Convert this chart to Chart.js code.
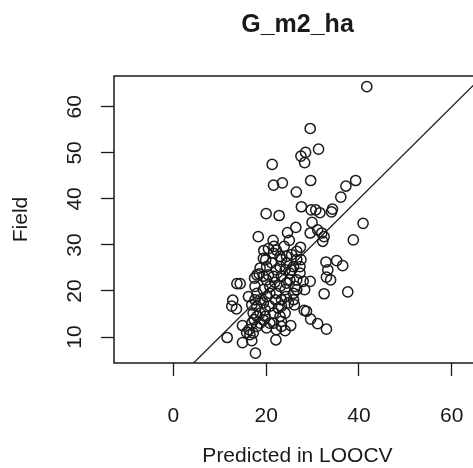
<!DOCTYPE html>
<html>
<head>
<meta charset="utf-8">
<script src="https://cdn.jsdelivr.net/npm/chart.js@4.4.1/dist/chart.umd.min.js"></script>
<style>
  html, body { margin: 0; padding: 0; background: #fff; overflow: hidden; }
  canvas { display: block; }
</style>
</head>
<body>
<canvas id="scatterChart" width="473" height="468"></canvas>
<script>
const chartTitle = "G_m2_ha";
const xTitle = "Predicted in LOOCV";
const yTitle = "Field";

const xTicks = [0, 20, 40, 60];
const yTicks = [10, 20, 30, 40, 50, 60];

// 1:1 reference line (abline 0,1)
const oneToOne = [-20, 80];

const predicted = [
  41.7, 29.5, 31.3, 27.5, 28.5, 28.3, 21.3, 29.6, 21.6, 23.5,
  26.5, 39.3, 37.2, 36.1, 27.6, 29.7, 30.7, 31.6, 34.1, 34.3,
  20.0, 22.8, 40.9, 29.9, 26.4, 29.5, 31.1, 32.0, 32.5, 32.2,
  38.8, 18.3, 24.6, 25.0, 21.5, 27.4, 19.5, 21.7, 23.9, 19.4,
  32.9, 35.2, 36.5, 33.3, 33.0, 33.9, 32.5, 37.6, 27.5, 27.3,
  29.5, 28.3, 26.1, 28.2, 28.7, 29.6, 31.1, 33.0, 25.3, 24.1,
  22.1, 17.7, 16.9, 14.9, 11.6, 14.9, 12.8, 12.6, 13.6, 13.7,
  14.4, 16.2, 17.5, 18.5, 18.0, 18.7, 17.2, 16.5, 20.1, 21.6,
  23.3, 24.1, 23.3, 21.6, 19.4, 18.0, 18.0, 20.1, 22.0, 24.3,
  25.9, 26.2, 24.4, 23.0, 20.8, 19.4, 20.1, 21.6, 23.3, 25.1,
  26.6, 27.3, 25.9, 24.4, 23.0, 21.2, 20.1, 18.7, 18.0, 24.4,
  23.0, 21.6, 25.5, 26.6, 20.8, 22.2, 17.2, 18.7, 19.4, 20.8,
  22.2, 23.3, 18.0, 16.9, 16.3, 17.4, 16.9, 18.7, 19.8, 23.0,
  24.8, 25.9, 26.6, 17.6, 19.4, 22.2, 24.1, 25.1, 21.9, 20.5,
  23.3, 22.2, 20.5, 26.6, 25.5, 19.9, 20.8, 22.6, 24.1, 17.6,
  15.8, 28.0, 19.8, 23.3
];

const field = [
  64.4, 55.3, 50.8, 49.3, 50.1, 47.9, 47.5, 44.0, 43.0, 43.5,
  41.5, 44.0, 42.8, 40.4, 38.3, 37.6, 37.6, 37.0, 37.2, 37.8,
  36.8, 36.4, 34.7, 34.9, 33.8, 32.6, 33.3, 32.6, 31.8, 30.8,
  31.1, 31.8, 32.7, 31.0, 31.0, 29.5, 28.8, 29.7, 29.7, 27.1,
  26.3, 26.6, 25.5, 24.6, 23.0, 22.4, 19.4, 19.8, 26.8, 23.9,
  22.1, 20.3, 17.0, 15.8, 15.6, 13.9, 12.9, 11.7, 12.5, 11.4,
  9.4, 6.5, 9.2, 8.8, 9.9, 12.5, 18.0, 16.7, 16.1, 21.6,
  21.6, 18.8, 22.8, 23.7, 14.5, 13.0, 10.9, 10.5, 12.0, 13.0,
  13.4, 15.2, 16.7, 15.2, 17.4, 16.7, 19.5, 18.8, 18.1, 18.8,
  19.5, 21.0, 21.7, 21.0, 21.0, 20.3, 22.4, 23.2, 23.2, 22.4,
  22.4, 25.3, 25.3, 26.1, 25.3, 26.1, 25.3, 25.0, 23.5, 27.5,
  27.5, 28.2, 27.9, 26.8, 19.5, 19.5, 15.2, 15.2, 13.7, 13.0,
  11.6, 12.3, 12.3, 13.0, 11.6, 13.8, 17.0, 18.1, 15.9, 14.5,
  17.4, 18.1, 20.3, 21.0, 23.2, 24.6, 24.6, 23.9, 21.9, 23.5,
  26.8, 28.9, 29.2, 28.6, 24.6, 26.8, 16.7, 16.3, 20.3, 18.1,
  11.0, 22.1, 14.5, 18.1
];

const fontFamily = "'Liberation Sans', Arial, Helvetica, sans-serif";
const ink = "#1a1a1a";

function toPoints(xs, ys) {
  return xs.map((x, i) => ({ x: x, y: ys[i] }));
}

function fixedTicks(values) {
  return function (scale) {
    scale.ticks = values.map((v) => ({ value: v }));
  };
}

// the original plot is cut at the right edge of the image, so the box
// gets its top, left and bottom sides only; titles sit over the full plot region
const fullRight = 481;

const rFramePlugin = {
  id: "rFrame",
  afterDraw(chart) {
    const ctx = chart.ctx;
    const area = chart.chartArea;
    const yScale = chart.scales.y;
    const midX = (area.left + fullRight) / 2;

    ctx.save();
    ctx.strokeStyle = ink;
    ctx.lineWidth = 1.5;
    ctx.beginPath();
    ctx.moveTo(chart.width + 2, area.top);
    ctx.lineTo(area.left, area.top);
    ctx.lineTo(area.left, area.bottom);
    ctx.lineTo(chart.width + 2, area.bottom);
    ctx.stroke();

    ctx.fillStyle = ink;
    ctx.font = "21px " + fontFamily;
    ctx.textAlign = "center";
    ctx.textBaseline = "middle";
    yTicks.forEach((v) => {
      ctx.save();
      ctx.translate(75, yScale.getPixelForValue(v));
      ctx.rotate(-Math.PI / 2);
      ctx.fillText(String(v), 0, 0);
      ctx.restore();
    });

    ctx.fillText(xTitle, midX, 456);

    ctx.font = "bold 25px " + fontFamily;
    ctx.fillText(chartTitle, midX, 25);
    ctx.restore();
  },
};

function createChart() {
  const canvas = document.getElementById("scatterChart").getContext("2d");
  new Chart(canvas, {
    type: "scatter",
    data: {
      datasets: [
        {
          data: toPoints(predicted, field),
          pointStyle: "circle",
          pointRadius: 5.1,
          pointHoverRadius: 5.1,
          pointBorderWidth: 1.5,
          pointBorderColor: ink,
          pointBackgroundColor: "rgba(0,0,0,0)",
        },
        {
          type: "line",
          data: toPoints(oneToOne, oneToOne),
          borderColor: ink,
          borderWidth: 1.3,
          pointRadius: 0,
          fill: false,
          clip: 0,
        },
      ],
    },
    options: {
      responsive: false,
      animation: false,
      devicePixelRatio: 1,
      layout: {
        autoPadding: false,
        padding: { top: 76, right: 0, left: 0, bottom: 0 },
      },
      plugins: {
        legend: { display: false },
        tooltip: { enabled: false },
        title: { display: false },
      },
      scales: {
        x: {
          type: "linear",
          min: -12.8,
          max: 64.6,
          afterBuildTicks: fixedTicks(xTicks),
          afterFit(scale) {
            scale.height = 105;
            scale.paddingLeft = 0;
            scale.paddingRight = 0;
          },
          border: { display: false },
          grid: {
            drawOnChartArea: false,
            drawTicks: true,
            tickLength: 13,
            tickColor: ink,
            tickWidth: 1.3,
          },
          ticks: {
            color: ink,
            padding: 28,
            maxRotation: 0,
            font: { family: fontFamily, size: 21 },
          },
          title: { display: false },
        },
        y: {
          type: "linear",
          min: 4.36,
          max: 66.7,
          afterBuildTicks: fixedTicks(yTicks),
          afterFit(scale) {
            scale.width = 114;
          },
          border: { display: false },
          grid: {
            drawOnChartArea: false,
            drawTicks: true,
            tickLength: 13,
            tickColor: ink,
            tickWidth: 1.3,
          },
          ticks: { display: false },
          title: {
            display: true,
            text: yTitle,
            color: ink,
            padding: { top: 9, bottom: 0 },
            font: { family: fontFamily, size: 21 },
          },
        },
      },
    },
    plugins: [rFramePlugin],
  });
}

createChart();
</script>
</body>
</html>
